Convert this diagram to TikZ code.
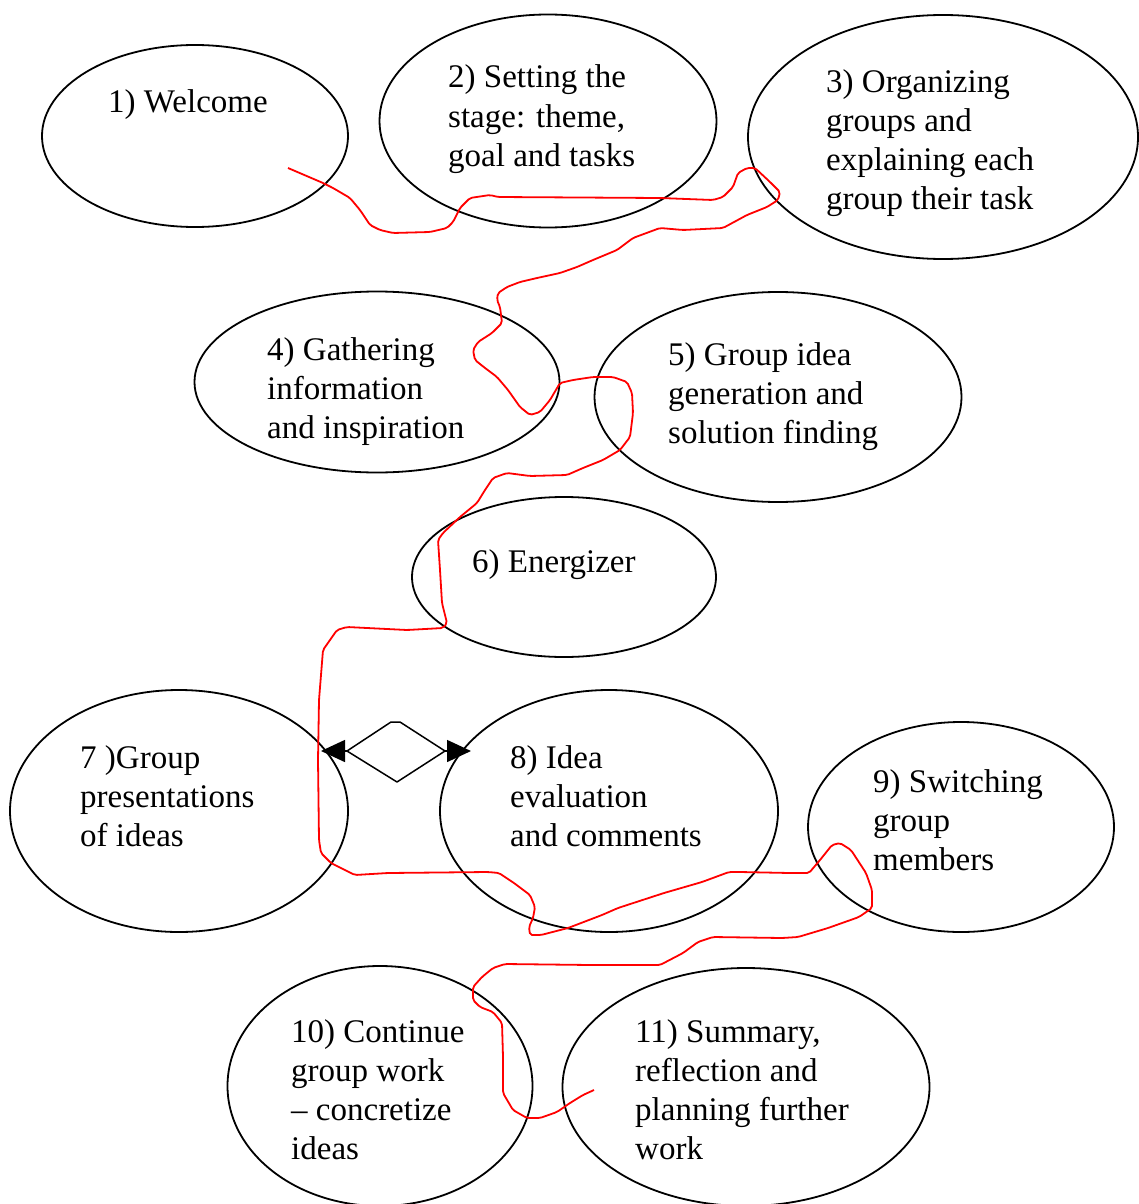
\documentclass[tikz,border=0pt]{standalone}
\usepackage{fontspec}
\setmainfont{Liberation Serif}
\usetikzlibrary{shapes.geometric,arrows.meta}
\begin{document}
\begin{tikzpicture}[x=1pt,y=-1pt,
  stage/.style={draw=black,line width=1.8pt,ellipse,inner sep=0pt},
  % labels are placed by the baseline of their last line
  label/.style={anchor=base west,inner sep=0pt,align=left,
    font=\fontsize{33}{39}\selectfont},
  flow/.style={draw=red,line width=1.8pt,line join=round,rounded corners=2pt},
  link/.style={draw=black,line width=1.5pt},
  tip/.style={-{Triangle[length=24pt,width=22pt]}}]
\useasboundingbox (0,0) rectangle (1139,1204);

% stages
\node[stage,minimum width=306pt,minimum height=182pt] (e1) at (195,136) {};
\node[stage,minimum width=337pt,minimum height=213pt] (e2) at (548,121) {};
\node[stage,minimum width=390pt,minimum height=244pt] (e3) at (943,137) {};
\node[stage,minimum width=365pt,minimum height=181pt] (e4) at (377,382) {};
\node[stage,minimum width=367pt,minimum height=210pt] (e5) at (778,397) {};
\node[stage,minimum width=304pt,minimum height=160pt] (e6) at (564,577) {};
\node[stage,minimum width=338pt,minimum height=242pt] (e7) at (179,811) {};
\node[stage,minimum width=338pt,minimum height=242pt] (e8) at (609,811) {};
\node[stage,minimum width=306pt,minimum height=210pt] (e9) at (961,827) {};
\node[stage,minimum width=305pt,minimum height=240pt] (e10) at (380,1086) {};
\node[stage,minimum width=367pt,minimum height=238pt] (e11) at (746,1087) {};

% labels
\node[label] (t1) at (108,113) {1) Welcome};
\node[label] (t2) at (448,166) {2) Setting the\\stage: theme,\\goal and tasks};
\node[label] (t3) at (826,209) {3) Organizing\\groups and\\explaining each\\group their task};
\node[label] (t4) at (267,438) {4) Gathering\\information\\and inspiration};
\node[label] (t5) at (668,443) {5) Group idea\\generation and\\solution finding};
\node[label] (t6) at (472,572) {6) Energizer};
\node[label] (t7) at (80,846) {7 )Group\\presentations\\of ideas};
\node[label] (t8) at (510,846) {8) Idea\\evaluation\\and comments};
\node[label] (t9) at (873,870) {9) Switching\\group\\members};
\node[label] (t10) at (291,1159) {10) Continue\\group work\\– concretize\\ideas};
\node[label] (t11) at (635,1159) {11) Summary,\\reflection and\\planning further\\work};

% double-headed link between 7 and 8
\coordinate (a7) at (321,751);
\coordinate (a8) at (471,751);
\coordinate (dl) at (347,751);
\coordinate (dr) at (445,751);
\draw[link,tip] (dl) -- (a7);
\draw[link,tip] (dr) -- (a8);
\draw[link,line join=round] (dl) -- (391,722) -- (400,722) -- (dr) -- (397,782) -- cycle;

% freehand route through the stages
\coordinate (go) at (288,168);
\coordinate (stop) at (594,1090);
\draw[flow] (go) -- (323,183) -- (333,188) -- (350,198) -- (360,210) -- (370,225)
  -- (380,230) -- (393,233) -- (430,232) -- (447,228) -- (453,222) -- (460,208)
  -- (470,198) -- (490,195) -- (498,197) -- (660,198) -- (713,200) -- (723,197)
  -- (733,187) -- (738,173) -- (747,168) -- (755,168) -- (770,182) -- (780,192)
  -- (778,200) -- (767,207) -- (747,215) -- (723,228) -- (683,230) -- (660,228)
  -- (633,238) -- (617,250) -- (593,260) -- (577,267) -- (560,273) -- (537,278)
  -- (520,282) -- (507,287) -- (498,293) -- (497,300) -- (500,307) -- (502,323)
  -- (492,333) -- (478,342) -- (473,350) -- (475,360) -- (485,368) -- (497,377)
  -- (508,390) -- (520,407) -- (530,415) -- (540,412) -- (550,400) -- (560,383)
  -- (573,380) -- (593,377) -- (613,377) -- (627,382) -- (632,393) -- (633,413)
  -- (630,437) -- (620,450) -- (603,460) -- (583,468) -- (567,475) -- (530,476)
  -- (507,473) -- (493,478) -- (485,490) -- (477,503) -- (460,517) -- (443,533)
  -- (438,540) -- (440,570) -- (442,603) -- (447,623) -- (443,628) -- (407,630)
  -- (347,627) -- (337,630) -- (323,650) -- (319,700) -- (318,760) -- (319,840)
  -- (321,853) -- (331,863) -- (355,875) -- (388,873) -- (488,872) -- (499,873)
  -- (514,883) -- (530,895) -- (535,907) -- (533,918) -- (529,927) -- (530,935)
  -- (541,935) -- (568,928) -- (602,915) -- (618,908) -- (664,893) -- (702,882)
  -- (729,872) -- (740,872) -- (790,873) -- (809,873) -- (820,860) -- (832,845)
  -- (840,843) -- (851,850) -- (866,873) -- (872,890) -- (872,908) -- (859,917)
  -- (828,928) -- (798,937) -- (782,938) -- (713,937) -- (698,942) -- (683,953)
  -- (660,965) -- (591,965) -- (505,964) -- (493,968) -- (482,977) -- (473,987)
  -- (473,1000) -- (480,1007) -- (493,1012) -- (502,1023) -- (503,1057)
  -- (503,1093) -- (513,1110) -- (527,1118) -- (540,1118) -- (557,1112)
  -- (570,1103) -- (583,1095) -- (stop);
\end{tikzpicture}
\end{document}
